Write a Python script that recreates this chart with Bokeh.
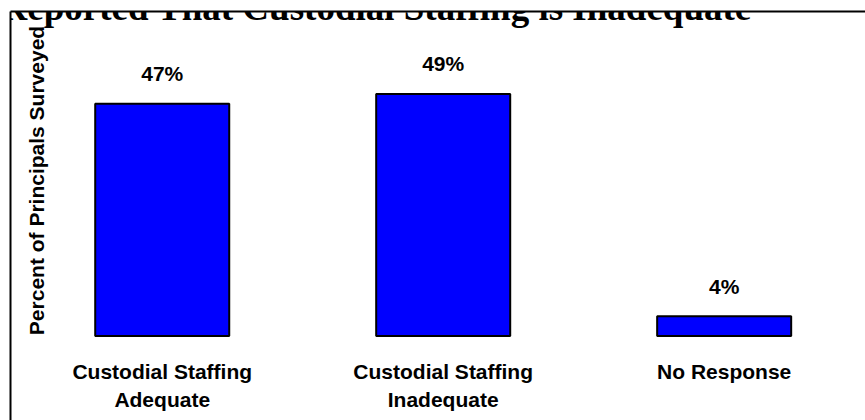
import numpy as np
from bokeh.plotting import figure
from bokeh.models import Range1d, FixedTicker, Label
from bokeh.core.properties import value
from bokeh.embed import file_html
from bokeh.resources import INLINE

# ---- data ----
categories = ["Custodial Staffing\nAdequate", "Custodial Staffing\nInadequate", "No Response"]
percents = [47, 49, 4]
value_labels = [f"{v}%" for v in percents]
title_text = "Reported That Custodial Staffing is Inadequate"
y_label_text = "Percent of Principals Surveyed"

# ---- layout ----
W, H = 865, 420
LEFT, TOP = 10, 11
FRAME_W, FRAME_H = W - LEFT, H - TOP
X_START, X_END = -0.54, 2.503
Y_START, Y_END = -17.1, 65.69
PX_X = FRAME_W / (X_END - X_START)
PX_Y = FRAME_H / (Y_END - Y_START)

def dx(px):  # canvas px -> data x
    return X_START + (px - LEFT) / PX_X

def dy(py):  # canvas py -> data y
    return Y_END - (py - TOP) / PX_Y

xs = list(range(len(categories)))

p = figure(width=W, height=H, output_backend="svg", toolbar_location=None,
           x_range=Range1d(X_START, X_END), y_range=Range1d(Y_START, Y_END),
           x_axis_location="above", y_axis_location="left",
           min_border_left=LEFT, min_border_top=TOP, min_border_right=0, min_border_bottom=0)
p.outline_line_color = None
p.background_fill_color = "white"
p.border_fill_color = "white"
p.grid.visible = False

for ax in (p.xaxis[0], p.yaxis[0]):
    ax.ticker = FixedTicker(ticks=[])
    ax.major_tick_out = 0
    ax.major_tick_in = 0
    ax.minor_tick_out = 0
    ax.minor_tick_in = 0
    ax.major_label_text_font_size = "0px"
    ax.major_label_standoff = 0
    ax.axis_line_color = "black"
    ax.axis_line_width = 2

# bars
p.vbar(x=xs, top=percents, bottom=0, width=0.477,
       fill_color="#0000FF", line_color="black", line_width=2)

FONT = value("Liberation Sans")

# value labels
p.text(x=xs, y=percents, text=value_labels, y_offset=-30,
       text_align="center", text_baseline="middle",
       text_font=FONT, text_font_style="bold", text_font_size=value("21px"),
       text_color="black")

# category labels
p.text(x=xs, y=[dy(359)] * len(xs), text=categories,
       text_align="center", text_baseline="top", text_line_height=1.23,
       text_font=FONT, text_font_style="bold", text_font_size=value("21px"),
       text_color="black")

# y label
p.text(x=[dx(36)], y=[dy(180)], text=[y_label_text], angle=np.pi / 2,
       text_align="center", text_baseline="middle",
       text_font=FONT, text_font_style="bold", text_font_size=value("21px"),
       text_color="black")

# title (partly cut off at top, as in the source)
p.add_layout(Label(x=0, y=6.5, x_units="canvas", y_units="canvas", text=title_text,
                   text_font="Liberation Serif", text_font_style="bold",
                   text_font_size="37px", text_baseline="alphabetic",
                   text_align="left", text_color="black"))

open("out.html", "w").write(file_html(p, INLINE))
